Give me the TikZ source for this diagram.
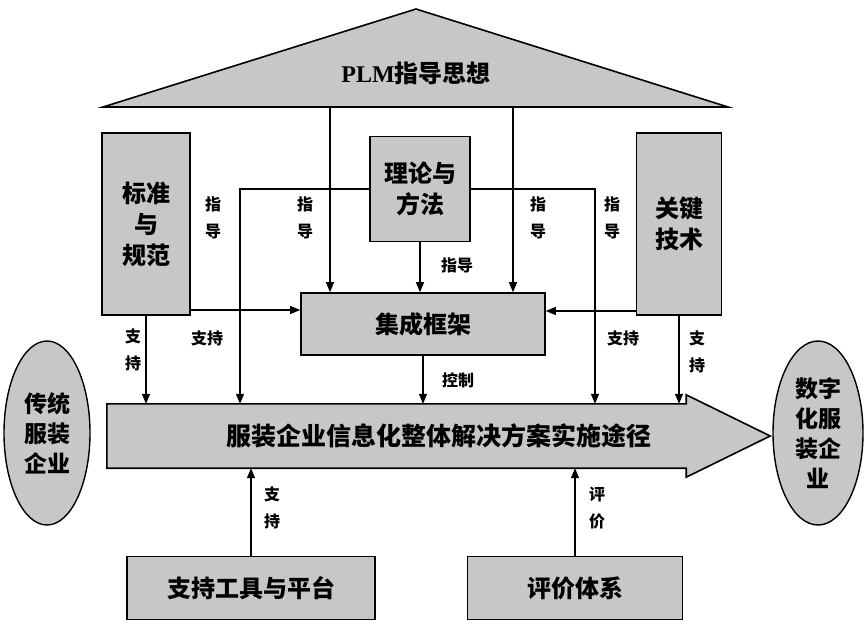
\documentclass[tikz,border=0pt]{standalone}
\usepackage{fontspec}
\setmainfont{Noto Sans CJK SC}
\newfontfamily\latinfont{Liberation Serif}
\usetikzlibrary{arrows.meta,shapes.geometric}

\begin{document}
\begin{tikzpicture}[x=1pt, y=-1pt,
  box/.style={rectangle, draw, line width=1.6pt, fill=black!22, align=center, inner sep=0pt, font=\bfseries\fontsize{24}{31}\selectfont},
  oval/.style={ellipse, draw, line width=1.4pt, fill=black!22, align=center, inner sep=0pt, font=\bfseries\fontsize{23}{30}\selectfont},
  tag/.style={align=center, inner sep=1pt, font=\bfseries\fontsize{16}{27}\selectfont},
  arrow/.style={-{Triangle[length=10pt,width=8pt]}, line width=1.3pt}
]
  \useasboundingbox (0,0) rectangle (868,626);

  % PLM roof (top)
  \draw[line width=1.6pt, fill=black!22] (103,107) -- (416,9) -- (728,107) -- cycle;
  \node[font=\bfseries\fontsize{24}{28}\selectfont] (plm) at (416,73) {{\latinfont PLM}指导思想};
  \coordinate (plmA) at (330,107);
  \coordinate (plmB) at (513,107);

  % Pillars and theory
  \node[box, minimum width=88pt, minimum height=182pt] (std) at (146,224) {标准\\与\\规范};
  \node[box, minimum width=85pt, minimum height=182pt] (tech) at (679,224) {关键\\技术};
  \node[box, minimum width=100pt, minimum height=105pt] (theory) at (420,189) {理论与\\方法};

  % Integration framework
  \node[box, minimum width=244pt, minimum height=62pt] (frame) at (423,324) {集成框架};

  % Implementation route (big arrow)
  \node[minimum width=663pt, minimum height=64pt, inner sep=0pt] (route) at (438.5,436) {};
  \draw[line width=1.6pt, fill=black!22] (route.north west) -- ([xshift=-84pt]route.north east) -- ++(0,9pt)
    -- (route.east) -- ([xshift=-84pt,yshift=-9pt]route.south east) -- ([xshift=-84pt]route.south east)
    -- (route.south west) -- cycle;
  \node[font=\bfseries\fontsize{25}{30}\selectfont] (routetext) at (route) {服装企业信息化整体解决方案实施途径};

  % Enterprises on both ends
  \node[oval, minimum width=86pt, minimum height=184pt] (old) at (47,433) {传统\\服装\\企业};
  \node[oval, minimum width=90pt, minimum height=184pt] (digital) at (818,433) {数字\\化服\\装企\\业};

  % Bottom layer
  \node[box, minimum width=248pt, minimum height=63pt] (tool) at (251,588) {支持工具与平台};
  \node[box, minimum width=215pt, minimum height=63pt] (eval) at (575,588) {评价体系};

  % Guidance from the roof and the theory
  \draw[arrow] (plmA) -- (plmA |- frame.north);
  \draw[arrow] (plmB) -- (plmB |- frame.north);
  \draw[arrow] (theory.south) -- (theory.south |- frame.north);
  \draw[arrow] (theory.west) -| (240,0 |- route.north);
  \draw[arrow] (theory.east) -| (595,0 |- route.north);
  \node[tag] at (305,218) {指\\导};
  \node[tag] at (538,218) {指\\导};
  \node[tag] at (213,218) {指\\导};
  \node[tag] at (612,218) {指\\导};
  \node[tag] at (457,265) {指导};

  % Support from the pillars
  \draw[arrow] (std.east |- 0,310) -- (frame.west |- 0,310);
  \draw[arrow] (tech.west |- 0,311) -- (frame.east |- 0,311);
  \draw[arrow] (std.south) -- (std.south |- route.north);
  \draw[arrow] (tech.south) -- (tech.south |- route.north);
  \node[tag] at (133,350) {支\\持};
  \node[tag] at (207,338) {支持};
  \node[tag] at (623,338) {支持};
  \node[tag] at (697,352) {支\\持};

  % Framework controls the route
  \draw[arrow] (frame.south) -- (frame.south |- route.north);
  \node[tag] at (458,380) {控制};

  % Tools and evaluation
  \draw[arrow] (tool.north) -- (tool.north |- route.south);
  \draw[arrow] (eval.north) -- (eval.north |- route.south);
  \node[tag] at (272,508) {支\\持};
  \node[tag] at (597,508) {评\\价};
\end{tikzpicture}
\end{document}
